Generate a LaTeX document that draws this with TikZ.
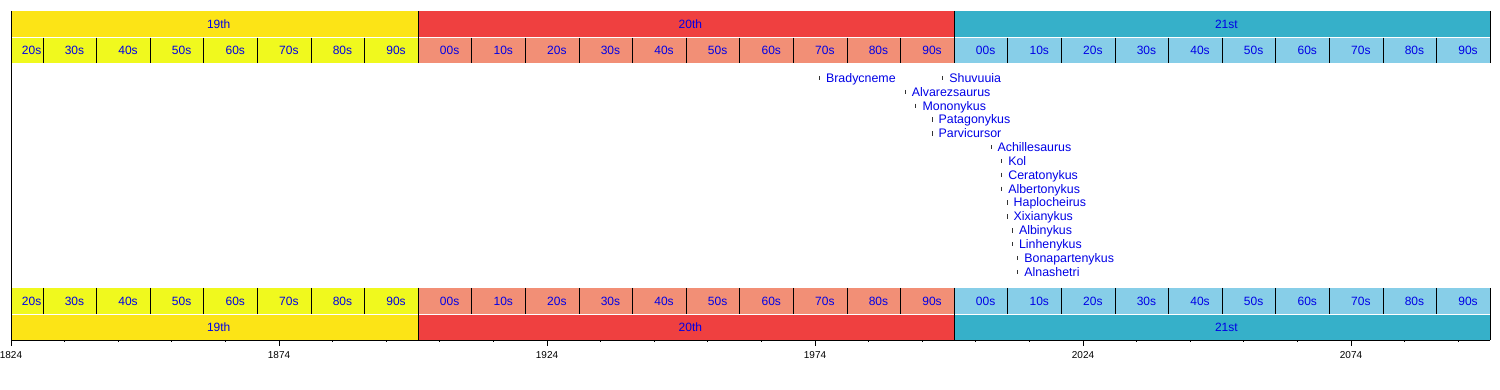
\documentclass[tikz,border=0pt]{standalone}
\usepackage{fontspec}
\setmainfont{Liberation Sans}
\definecolor{cXIX}{RGB}{252,228,22}
\definecolor{dXIX}{RGB}{240,249,30}
\definecolor{cXX}{RGB}{239,64,64}
\definecolor{dXX}{RGB}{242,143,118}
\definecolor{cXXI}{RGB}{54,176,201}
\definecolor{dXXI}{RGB}{135,206,232}
\definecolor{lbl}{RGB}{0,0,230}
\begin{document}
\begin{tikzpicture}[x=1pt,y=-1pt,
  declare function={yx(\t)=11+5.36*(\t-1824);},
  barlabel/.style={text=lbl,font=\fontsize{12}{12}\selectfont,inner sep=0pt,anchor=center,text height=8.6pt,text depth=0pt},
  taxon/.style={text=lbl,font=\fontsize{12.4}{12.4}\selectfont,inner sep=0pt,anchor=west,text height=8.8pt,text depth=0pt},
  taxtick/.style={draw=black!80,line width=0.7pt},
  sep/.style={draw=black,line width=1pt},
  axislabel/.style={text=black,font=\fontsize{10}{10}\selectfont,inner sep=0pt,anchor=center,text height=7.2pt,text depth=0pt},
  ]
\useasboundingbox (0,0) rectangle (1500,390);
% century and decade bars (top and bottom)
\foreach \a/\b/\c/\d in {1824/1900/cXIX/dXIX,1900/2000/cXX/dXX,2000/2100/cXXI/dXXI}{
  \fill[\c] ({yx(\a)},11) rectangle ({yx(\b)},36.7);
  \fill[\d] ({yx(\a)},37.7) rectangle ({yx(\b)},63.3);
  \fill[\d] ({yx(\a)},288) rectangle ({yx(\b)},313.7);
  \fill[\c] ({yx(\a)},314.7) rectangle ({yx(\b)},340);
}
% century labels
\foreach \a/\b/\lab/\n in {1824/1900/19th/c19,1900/2000/20th/c20,2000/2100/21st/c21}{
  \node[barlabel] (\n top) at ({(yx(\a)+yx(\b))/2+4},23.8) {\lab};
  \node[barlabel] (\n bot) at ({(yx(\a)+yx(\b))/2+4},327.4) {\lab};
}
% decade labels
\foreach \s/\e/\lab/\n in {1824/1830/20s/a1,1830/1840/30s/a2,1840/1850/40s/a3,1850/1860/50s/a4,1860/1870/60s/a5,1870/1880/70s/a6,1880/1890/80s/a7,1890/1900/90s/a8,
  1900/1910/00s/b0,1910/1920/10s/b1,1920/1930/20s/b2,1930/1940/30s/b3,1940/1950/40s/b4,1950/1960/50s/b5,1960/1970/60s/b6,1970/1980/70s/b7,1980/1990/80s/b8,1990/2000/90s/b9,
  2000/2010/00s/c0,2010/2020/10s/c1,2020/2030/20s/c2,2030/2040/30s/c3,2040/2050/40s/c4,2050/2060/50s/c5,2060/2070/60s/c6,2070/2080/70s/c7,2080/2090/80s/c8,2090/2100/90s/c9}{
  \node[barlabel] (\n top) at ({(yx(\s)+yx(\e))/2+4.5},50.5) {\lab};
  \node[barlabel] (\n bot) at ({(yx(\s)+yx(\e))/2+4.5},300.9) {\lab};
}
% decade separators
\foreach \d in {1830,1840,...,2090}{
  \draw[sep] ({yx(\d)},37.7) -- ({yx(\d)},63.3);
  \draw[sep] ({yx(\d)},288) -- ({yx(\d)},313.7);
}
% century separators and right edge
\foreach \d in {1900,2000,2100}{
  \draw[sep] ({yx(\d)},11) -- ({yx(\d)},63.3);
  \draw[sep] ({yx(\d)},288) -- ({yx(\d)},340);
}
% left edge and axis
\coordinate (lefttop) at ({yx(1824)},11);
\coordinate (axisL) at ({yx(1824)},340);
\coordinate (axisR) at ({yx(2100)},340);
\draw[sep] (lefttop) -- (axisL);
\draw[sep] (axisL) -- (axisR);
\foreach \d in {1834,1844,...,2094}{
  \draw[line width=1pt] ({yx(\d)},340) -- ({yx(\d)},342.3);
}
\foreach \d/\n in {1824/t1,1874/t2,1924/t3,1974/t4,2024/t5,2074/t6}{
  \draw[line width=1pt] ({yx(\d)},340) -- ({yx(\d)},345.7);
  \node[axislabel] (\n) at ({yx(\d)},355.3) {\d};
}
% taxa
\foreach \yr/\row/\name in {1975/78/Bradycneme,1998/78/Shuvuuia,1991/92/Alvarezsaurus,1993/105.8/Mononykus,1996/119.5/Patagonykus,1996/133.4/Parvicursor,2007/147.3/Achillesaurus,2009/161.1/Kol,2009/174.9/Ceratonykus,2009/188.8/Albertonykus,2010/202.6/Haplocheirus,2010/216.5/Xixianykus,2011/230.4/Albinykus,2011/244.3/Linhenykus,2012/258.2/Bonapartenykus,2012/272.2/Alnashetri}{
  \coordinate (\name tick) at ({yx(\yr)-1},\row);
  \draw[taxtick] ([yshift=2.2pt]\name tick) -- ([yshift=-2.2pt]\name tick);
  \node[taxon] (\name) at ([xshift=6.5pt]\name tick) {\name};
}
\end{tikzpicture}
\end{document}
